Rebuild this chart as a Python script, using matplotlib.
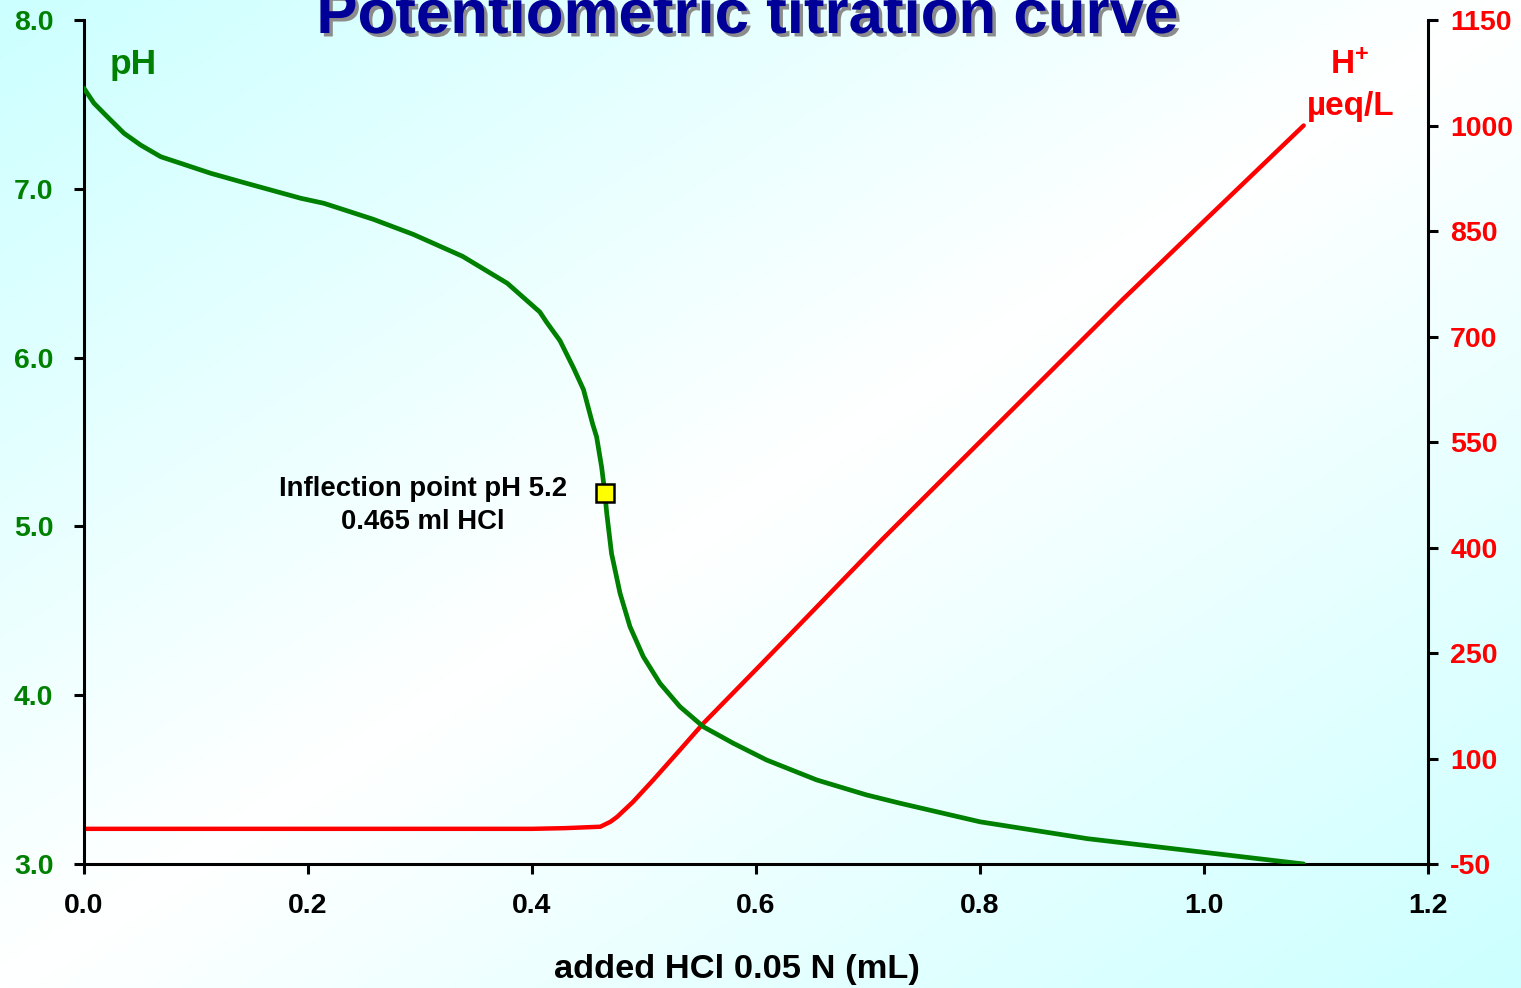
import numpy as np
import matplotlib
matplotlib.use("Agg")
import matplotlib.pyplot as plt
import matplotlib.patheffects as pe

plt.rcParams["font.family"] = ["Liberation Sans", "DejaVu Sans"]
plt.rcParams["font.weight"] = "bold"
plt.rcParams["mathtext.fontset"] = "custom"
plt.rcParams["mathtext.rm"] = "Liberation Sans:bold"
plt.rcParams["mathtext.bf"] = "Liberation Sans:bold"

# pH curve
ml_ph = [0.0, 0.0089, 0.0208, 0.0357, 0.0506, 0.0685, 0.0863, 0.1131, 0.1399, 0.1667,
         0.1935, 0.2143, 0.258, 0.294, 0.338, 0.378, 0.407, 0.413, 0.425, 0.437,
         0.446, 0.454, 0.4577, 0.4622, 0.465, 0.4667, 0.471, 0.4786, 0.4875, 0.4994,
         0.5143, 0.5321, 0.553, 0.5798, 0.6095, 0.6542, 0.6988, 0.7286, 0.80, 0.896,
         0.999, 1.089]
ph = [7.595, 7.507, 7.427, 7.329, 7.259, 7.190, 7.151, 7.092, 7.042, 6.993,
      6.944, 6.914, 6.82, 6.73, 6.60, 6.44, 6.27, 6.21, 6.10, 5.94,
      5.81, 5.61, 5.53, 5.35, 5.20, 5.08, 4.84, 4.604, 4.406, 4.228,
      4.070, 3.932, 3.813, 3.715, 3.616, 3.498, 3.409, 3.360, 3.25, 3.15,
      3.07, 3.00]

# H+ curve, ueq/L
ml_h = [0.0, 0.2, 0.4, 0.43, 0.461, 0.47, 0.476, 0.49, 0.508, 0.532,
        0.553, 0.604, 0.713, 0.82, 0.927, 1.0, 1.089]
h_plus = [0, 0, 0, 1, 3, 10, 17, 38, 69, 112,
          150, 233, 412, 582, 752, 864, 1000]

infl_ml, infl_ph = 0.465, 5.2

x_ticks = [0.0, 0.2, 0.4, 0.6, 0.8, 1.0, 1.2]
ph_ticks = [3.0, 4.0, 5.0, 6.0, 7.0, 8.0]
h_ticks = [-50, 100, 250, 400, 550, 700, 850, 1000, 1150]

GREEN = "#008000"
RED = "#ff0000"
W, H = 1521, 988

fig = plt.figure(figsize=(W / 100, H / 100), dpi=100)

# diagonal cyan-white-cyan background
bg = fig.add_axes([0, 0, 1, 1], zorder=-5)
u, v = np.meshgrid(np.linspace(0, 1, 400), np.linspace(0, 1, 260))
t = np.abs((u + v) - 1.0)
cyan = np.array([0.80, 1.0, 1.0])
img = 1 - (1 - cyan)[None, None, :] * t[:, :, None]
bg.imshow(img, extent=[0, 1, 0, 1], aspect="auto", origin="upper")
bg.axis("off")

ax = fig.add_axes([84 / W, 1 - 864 / H, (1428 - 84) / W, (864 - 20) / H])
ax.patch.set_visible(False)
ax2 = ax.twinx()
ax2.patch.set_visible(False)

ax.plot(ml_ph, ph, color=GREEN, lw=3.4, solid_capstyle="round",
        solid_joinstyle="round", zorder=3)
ax2.plot(ml_h, h_plus, color=RED, lw=3.2, solid_capstyle="round",
         solid_joinstyle="round", zorder=2)
ax.plot([infl_ml], [infl_ph], "s", ms=12.5, mfc="#ffff00", mec="black", mew=1.8, zorder=5)
ax.set_zorder(2)
ax2.set_zorder(1)

ax.set_xlim(0, 1.2)
ax.set_ylim(3.0, 8.0)
ax2.set_ylim(-50, 1150)
ax.set_xticks(x_ticks)
ax.set_xticklabels([f"{x:.1f}" for x in x_ticks])
ax.set_yticks(ph_ticks)
ax.set_yticklabels([f"{y:.1f}" for y in ph_ticks])
ax2.set_yticks(h_ticks)
ax2.set_yticklabels([str(y) for y in h_ticks])

for a in (ax, ax2):
    a.spines["top"].set_visible(False)
    for s in a.spines.values():
        s.set_linewidth(2.2)
ax.spines["right"].set_visible(False)
ax2.spines["left"].set_visible(False)
ax2.spines["bottom"].set_visible(False)

ax.tick_params(axis="y", direction="out", length=7, width=2.2, pad=15,
               labelsize=20.5, labelcolor=GREEN)
ax.tick_params(axis="x", direction="out", length=7, width=2.2, pad=14,
               labelsize=20.5, labelcolor="black")
ax2.tick_params(axis="y", direction="out", length=7, width=2.2, pad=9,
                labelsize=20.5, labelcolor=RED)

ax.text(0.3027, 5.222, "Inflection point pH 5.2", ha="center", va="center",
        fontsize=19.8, fontweight="bold", color="black")
ax.text(0.3027, 5.026, "0.465 ml HCl", ha="center", va="center",
        fontsize=19.8, fontweight="bold", color="black")

fig.text(110 / W, 1 - 74 / H, "pH", color=GREEN, fontsize=25.5, fontweight="bold",
         ha="left", va="baseline")
fig.text(1350 / W, 1 - 74 / H, r"$\mathbf{H^{+}}$", color=RED, fontsize=24,
         ha="center", va="baseline")
fig.text(1351 / W, 1 - 115 / H, "µeq/L", color=RED, fontsize=24, fontweight="bold",
         ha="center", va="baseline")

fig.text(737 / W, 1 - 978 / H, "added HCl 0.05 N (mL)", color="black", fontsize=24.8,
         fontweight="bold", ha="center", va="baseline")

fig.text(747 / W, 1 - 33 / H, "Potentiometric titration curve", color="#000099",
         fontsize=44.5, fontweight="bold", ha="center", va="baseline",
         path_effects=[pe.withSimplePatchShadow(offset=(2.5, -2.5),
                                                shadow_rgbFace="#8c8c8c", alpha=1.0)])

fig.savefig("out.png", dpi=100)
